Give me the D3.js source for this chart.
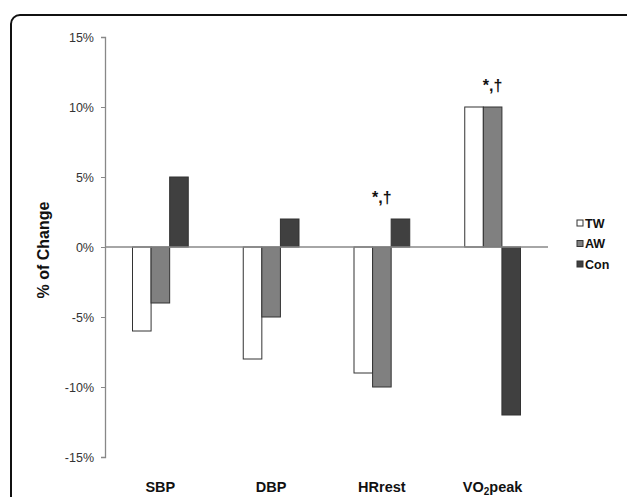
<!DOCTYPE html>
<html>
<head>
<meta charset="utf-8">
<script src="https://cdn.jsdelivr.net/npm/d3@7"></script>
<style>
  body { margin: 0; background: #fff; }
  svg { display: block; font-family: "Liberation Sans", Arial, sans-serif; }
</style>
</head>
<body>
<svg id="chart" width="627" height="497"></svg>
<script>
// data
const categories = ['SBP', 'DBP', 'HRrest', 'VO2peak'];
const seriesNames = ['TW', 'AW', 'Con'];
const twValues = [-6, -8, -9, 10];
const awValues = [-4, -5, -10, 10];
const conValues = [5, 2, 2, -12];
const yTicks = [-15, -10, -5, 0, 5, 10, 15];
const annotations = [
  { category: 'HRrest', value: 2, text: '*,†' },
  { category: 'VO2peak', value: 10, text: '*,†' }
];

const seriesValues = [twValues, awValues, conValues];
const fills = ['#ffffff', '#808080', '#404040'];

const svg = d3.select('#chart');
const margin = { left: 105, right: 79, top: 37, bottom: 40 };
const width = 627 - margin.left - margin.right;
const height = 497 - margin.top - margin.bottom;

// frame with rounded corner, running off the right and bottom edges
svg.append('rect')
  .attr('x', 11)
  .attr('y', 15)
  .attr('width', 640)
  .attr('height', 520)
  .attr('rx', 9)
  .attr('fill', 'none')
  .attr('stroke', '#111')
  .attr('stroke-width', 2);

const g = svg.append('g')
  .attr('transform', `translate(${margin.left},${margin.top})`);

const x0 = d3.scaleBand()
  .domain(categories)
  .range([0, width])
  .paddingInner(0)
  .paddingOuter(0);

const x1 = d3.scaleBand()
  .domain(seriesNames)
  .range([27.5, x0.bandwidth() - 27.5]);

const y = d3.scaleLinear()
  .domain([-15, 15])
  .range([height, 0]);

// y axis
const yAxis = g.append('g')
  .call(d3.axisLeft(y)
    .tickValues(yTicks)
    .tickSize(4)
    .tickPadding(7)
    .tickFormat(d => d + '%'));
yAxis.select('.domain').attr('stroke', '#888').attr('stroke-width', 1.3);
yAxis.selectAll('.tick line').attr('stroke', '#888');
yAxis.selectAll('.tick text')
  .attr('fill', '#333')
  .style('font-size', '12.5px');

// bars
const rows = categories.map((c, i) => ({
  category: c,
  values: seriesNames.map((s, j) => ({ series: s, idx: j, value: seriesValues[j][i] }))
}));

const groups = g.selectAll('.group')
  .data(rows)
  .enter()
  .append('g')
  .attr('class', 'group')
  .attr('transform', d => `translate(${x0(d.category)},0)`);

groups.selectAll('rect')
  .data(d => d.values)
  .enter()
  .append('rect')
  .attr('x', d => x1(d.series))
  .attr('width', x1.bandwidth())
  .attr('y', d => y(Math.max(0, d.value)))
  .attr('height', d => Math.abs(y(d.value) - y(0)))
  .attr('fill', d => fills[d.idx])
  .attr('stroke', '#333')
  .attr('stroke-width', 1);

// zero line
g.append('line')
  .attr('x1', 0)
  .attr('x2', width)
  .attr('y1', y(0))
  .attr('y2', y(0))
  .attr('stroke', '#888')
  .attr('stroke-width', 1.3);

// significance marks
g.selectAll('.annot')
  .data(annotations)
  .enter()
  .append('text')
  .attr('class', 'annot')
  .attr('x', d => x0(d.category) + x0.bandwidth() / 2)
  .attr('y', d => y(d.value) - 16)
  .attr('text-anchor', 'middle')
  .style('font-size', '16px')
  .style('font-weight', 'bold')
  .attr('fill', '#111')
  .text(d => d.text);

// category labels
const catLabels = g.selectAll('.cat')
  .data(categories)
  .enter()
  .append('text')
  .attr('class', 'cat')
  .attr('x', d => x0(d) + x0.bandwidth() / 2)
  .attr('y', height + 35)
  .attr('text-anchor', 'middle')
  .style('font-size', '14.5px')
  .style('font-weight', 'bold')
  .attr('fill', '#111');

catLabels.each(function(d) {
  const t = d3.select(this);
  if (d === 'VO2peak') {
    t.append('tspan').text('VO');
    t.append('tspan').attr('dy', 2.5).style('font-size', '10px').text('2');
    t.append('tspan').attr('dy', -2.5).text('peak');
  } else {
    t.text(d);
  }
});

// y axis title
svg.append('text')
  .attr('transform', `translate(49,250) rotate(-90)`)
  .attr('text-anchor', 'middle')
  .style('font-size', '16px')
  .style('font-weight', 'bold')
  .attr('fill', '#111')
  .text('% of Change');

// legend
const legend = svg.append('g')
  .attr('transform', 'translate(577,223)');

const items = legend.selectAll('.item')
  .data(seriesNames)
  .enter()
  .append('g')
  .attr('class', 'item')
  .attr('transform', (d, i) => `translate(0,${i * 20.5})`);

items.append('rect')
  .attr('x', 0)
  .attr('y', -3)
  .attr('width', 6)
  .attr('height', 6)
  .attr('fill', (d, i) => fills[i])
  .attr('stroke', '#333')
  .attr('stroke-width', 1);

items.append('text')
  .attr('x', 8)
  .attr('y', 4.5)
  .style('font-size', '12.5px')
  .style('font-weight', 'bold')
  .attr('fill', '#111')
  .text(d => d);
</script>
</body>
</html>
